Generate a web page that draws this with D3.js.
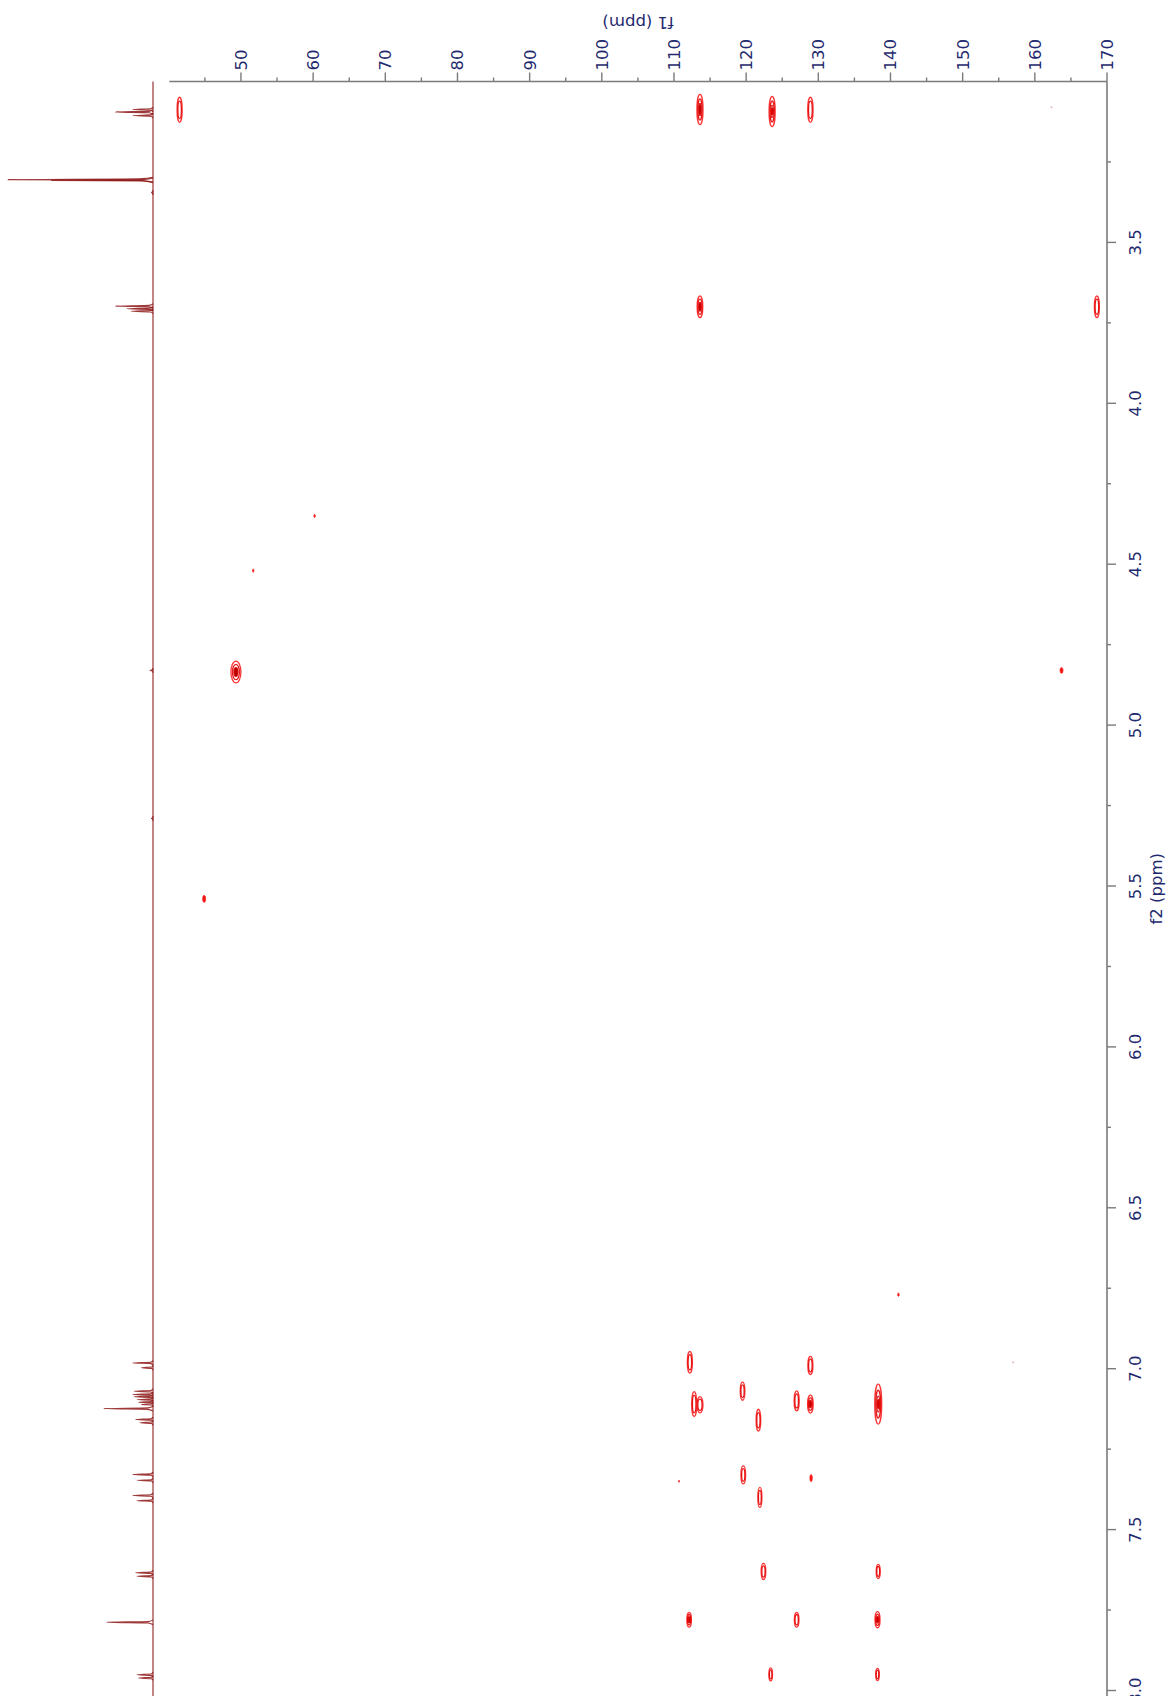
<!DOCTYPE html>
<html>
<head>
<meta charset="utf-8">
<script src="https://cdn.jsdelivr.net/npm/d3@7/dist/d3.min.js"></script>
<style>
  html, body { margin: 0; padding: 0; background: #ffffff; }
  svg { display: block; }
  text { font-family: "DejaVu Sans", Verdana, sans-serif; }
</style>
</head>
<body>
<svg id="chart" width="1170" height="1696"></svg>
<script>
// ---------- data ----------
// f1 (13C) axis ticks
const f1MajorTicks = [50, 60, 70, 80, 90, 100, 110, 120, 130, 140, 150, 160, 170];
const f1MinorTicks = [45, 55, 65, 75, 85, 95, 105, 115, 125, 135, 145, 155, 165];
// f2 (1H) axis ticks
const f2MajorTicks = [3.5, 4.0, 4.5, 5.0, 5.5, 6.0, 6.5, 7.0, 7.5, 8.0];
const f2TickLabels = ["3.5", "4.0", "4.5", "5.0", "5.5", "6.0", "6.5", "7.0", "7.5", "8.0"];
const f2MinorTicks = [3.25, 3.75, 4.25, 4.75, 5.25, 5.75, 6.25, 6.75, 7.25, 7.75];

// 1D proton spectrum: line positions (ppm) and heights (% of tallest)
const protonShifts  = [3.087, 3.095, 3.106, 3.305, 3.307, 3.345,
                       3.698, 3.706, 3.714, 4.830, 5.290,
                       6.982, 6.997, 7.070, 7.080, 7.087, 7.096, 7.104, 7.111, 7.124, 7.158, 7.168,
                       7.329, 7.347, 7.394, 7.410, 7.634, 7.645, 7.788, 7.951, 7.961];
const protonHeights = [14, 26, 14, 100, 70, 1,
                       26, 18, 15, 2, 1,
                       14, 8, 13, 14, 13, 11, 10, 8, 34, 12, 9,
                       14, 11, 14, 11, 12, 11, 32, 11, 10];

// 2D cross peaks: f1 (ppm), f2 (ppm), half widths (ppm), contour levels
const crossF1 = [41.5, 113.6, 123.6, 128.9,
                 113.6, 168.6,
                 60.2, 51.7, 49.3, 163.7, 44.9, 141.1,
                 112.2, 128.9, 119.5, 112.8, 113.6, 127.0, 128.9, 138.3, 121.7,
                 119.6, 129.0, 121.9, 110.7,
                 122.4, 138.3, 112.1, 127.0, 138.2, 123.4, 138.2];
const crossF2 = [3.088, 3.087, 3.093, 3.088,
                 3.700, 3.700,
                 4.350, 4.520, 4.835, 4.830, 5.540, 6.770,
                 6.980, 6.990, 7.070, 7.110, 7.112, 7.100, 7.110, 7.110, 7.160,
                 7.330, 7.340, 7.400, 7.350,
                 7.630, 7.630, 7.780, 7.780, 7.780, 7.950, 7.950];
const crossW1 = [0.35, 0.42, 0.42, 0.37,
                 0.39, 0.35,
                 0.10, 0.10, 0.69, 0.21, 0.21, 0.11,
                 0.35, 0.35, 0.32, 0.35, 0.42, 0.35, 0.39, 0.48, 0.32,
                 0.32, 0.17, 0.28, 0.08,
                 0.32, 0.28, 0.32, 0.32, 0.35, 0.25, 0.25];
const crossW2 = [0.039, 0.047, 0.047, 0.039,
                 0.034, 0.034,
                 0.005, 0.005, 0.034, 0.009, 0.011, 0.005,
                 0.034, 0.028, 0.028, 0.039, 0.025, 0.031, 0.028, 0.062, 0.034,
                 0.028, 0.011, 0.031, 0.003,
                 0.025, 0.022, 0.023, 0.023, 0.025, 0.020, 0.019];
const crossLevels = [2, 3, 4, 2,
                     3, 2,
                     1, 1, 3, 1, 1, 1,
                     2, 2, 2, 2, 2, 2, 3, 4, 2,
                     2, 1, 2, 1,
                     2, 2, 3, 2, 3, 2, 2];

// very faint cross peaks
const faintF1 = [162.3, 157.0];
const faintF2 = [3.080, 6.980];

// ---------- scales ----------
const svg = d3.select("#chart");
const x = d3.scaleLinear().domain([40.07, 170]).range([169.3, 1107]);   // f1
const y = d3.scaleLinear().domain([3.0, 8.0]).range([81.5, 1690.5]);    // f2
const xi = d3.scaleLinear().domain([0, 100]).range([153, 8]);           // 1D intensity

const axisColor = "#7a7a7a";
const textColor = "#1f2a6e";
const fontSize = 16.5;

// ---------- axes ----------
const axG = svg.append("g");
axG.append("line")
  .attr("x1", x.range()[0]).attr("x2", x.range()[1])
  .attr("y1", y(3.0)).attr("y2", y(3.0))
  .attr("stroke", axisColor).attr("stroke-width", 1.6);
axG.append("line")
  .attr("x1", x(170)).attr("x2", x(170))
  .attr("y1", y(3.0)).attr("y2", 1696)
  .attr("stroke", axisColor).attr("stroke-width", 1.6);

axG.selectAll(".f1maj").data(f1MajorTicks).enter().append("line")
  .attr("x1", d => x(d)).attr("x2", d => x(d))
  .attr("y1", y(3.0)).attr("y2", y(3.0) - 9)
  .attr("stroke", axisColor).attr("stroke-width", 1.4);
axG.selectAll(".f1min").data(f1MinorTicks).enter().append("line")
  .attr("x1", d => x(d)).attr("x2", d => x(d))
  .attr("y1", y(3.0)).attr("y2", y(3.0) - 4)
  .attr("stroke", axisColor).attr("stroke-width", 1.4);
axG.selectAll(".f1lab").data(f1MajorTicks).enter().append("text")
  .attr("transform", d => `translate(${x(d)},${y(3.0) - 11}) rotate(-90)`)
  .attr("dy", "0.36em")
  .attr("text-anchor", "start")
  .attr("font-size", fontSize)
  .attr("fill", textColor)
  .text(d => d3.format("d")(d));

axG.selectAll(".f2maj").data(f2MajorTicks).enter().append("line")
  .attr("y1", d => y(d)).attr("y2", d => y(d))
  .attr("x1", x(170)).attr("x2", x(170) + 9)
  .attr("stroke", axisColor).attr("stroke-width", 1.4);
axG.selectAll(".f2min").data(f2MinorTicks).enter().append("line")
  .attr("y1", d => y(d)).attr("y2", d => y(d))
  .attr("x1", x(170)).attr("x2", x(170) + 4)
  .attr("stroke", axisColor).attr("stroke-width", 1.4);
axG.selectAll(".f2lab").data(f2MajorTicks).enter().append("text")
  .attr("transform", (d, i) => `translate(${x(170) + 28},${y(d)}) rotate(-90)`)
  .attr("dy", "0.36em")
  .attr("text-anchor", "middle")
  .attr("font-size", fontSize)
  .attr("fill", textColor)
  .text((d, i) => f2TickLabels[i]);

axG.append("text")
  .attr("transform", `translate(${(x.range()[0] + x.range()[1]) / 2},17) rotate(180)`)
  .attr("text-anchor", "middle")
  .attr("font-size", fontSize)
  .attr("fill", textColor)
  .text("f1 (ppm)");
axG.append("text")
  .attr("transform", `translate(${x(170) + 49},${(y(3.0) + 1696) / 2}) rotate(-90)`)
  .attr("dy", "0.36em")
  .attr("text-anchor", "middle")
  .attr("font-size", fontSize)
  .attr("fill", textColor)
  .text("f2 (ppm)");

// ---------- 1D proton trace ----------
const specG = svg.append("g");
const traceColor = "#8e1616";
specG.append("line")
  .attr("x1", xi(0)).attr("x2", xi(0))
  .attr("y1", y(3.0)).attr("y2", 1696)
  .attr("stroke", traceColor).attr("stroke-width", 1.3).attr("stroke-opacity", 0.8);
const spikeHalf = 2.4; // px half base of a spike (style)
const spikeLine = d3.line().x(p => p[0]).y(p => p[1]).curve(d3.curveMonotoneY);
specG.selectAll(".spike").data(protonShifts).enter().append("path")
  .attr("d", (d, i) => {
    const yc = y(d);
    return spikeLine([[xi(0), yc - spikeHalf], [xi(protonHeights[i] * 0.1), yc - 0.7],
                      [xi(protonHeights[i]), yc], [xi(protonHeights[i] * 0.1), yc + 0.7],
                      [xi(0), yc + spikeHalf]]);
  })
  .attr("fill", "none")
  .attr("stroke", traceColor).attr("stroke-width", 1.2)
  .attr("stroke-linejoin", "round").attr("stroke-opacity", 0.85);

// ---------- 2D cross peaks ----------
const cpG = svg.append("g");
crossF1.forEach((f1, i) => {
  const cx = x(f1), cy = y(crossF2[i]);
  const rx = x(f1 + crossW1[i]) - cx;
  const ry = y(crossF2[i] + crossW2[i]) - cy;
  const n = crossLevels[i];
  const g = cpG.append("g");
  if (n === 1) {
    g.append("ellipse").attr("cx", cx).attr("cy", cy).attr("rx", rx).attr("ry", ry)
      .attr("fill", "#f01010").attr("stroke", "#ff3030").attr("stroke-width", 0.8);
    return;
  }
  for (let k = 0; k < n; k++) {
    const s = Math.max(1 - k * 0.3, 0.22);
    const inner = (k === n - 1 && n >= 3);
    g.append("ellipse").attr("cx", cx).attr("cy", cy)
      .attr("rx", rx * s).attr("ry", ry * s)
      .attr("fill", inner ? "#b40000" : "none")
      .attr("stroke", k === 0 ? "#ff2020" : "#e00000")
      .attr("stroke-width", 1.3)
      .attr("stroke-opacity", 0.9);
  }
});
faintF1.forEach((f1, i) => {
  cpG.append("ellipse").attr("cx", x(f1)).attr("cy", y(faintF2[i]))
    .attr("rx", 1).attr("ry", 1.2).attr("fill", "#e8c8c8");
});
</script>
</body>
</html>
